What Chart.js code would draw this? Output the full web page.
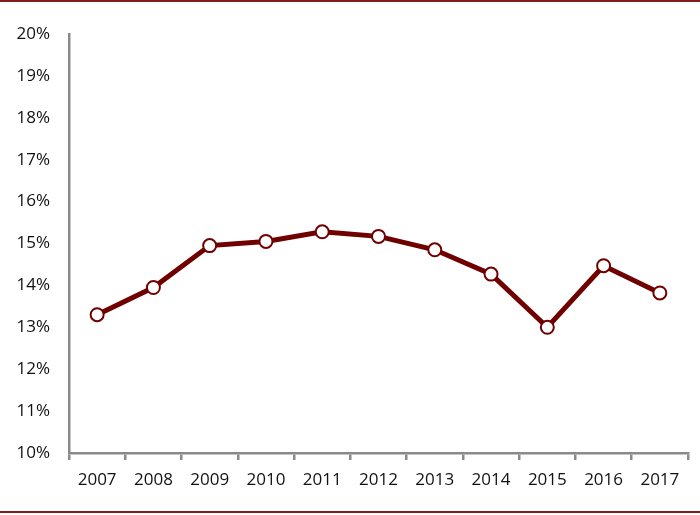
<!DOCTYPE html>
<html>
<head>
<meta charset="utf-8">
<script src="https://cdn.jsdelivr.net/npm/chart.js@4"></script>
<style>
html,body{margin:0;padding:0;background:#fff;}
#wrap{width:700px;height:515px;position:relative;}
</style>
</head>
<body>
<div id="wrap"><canvas id="c" width="700" height="515"></canvas></div>
<script>
const years = ['2007','2008','2009','2010','2011','2012','2013','2014','2015','2016','2017'];
const rates = [13.3, 13.95, 14.95, 15.05, 15.28, 15.17, 14.85, 14.27, 13.0, 14.47, 13.82];
const yMin = 10, yMax = 20, yStep = 1;

const frameLines = {
  id: 'frameLines',
  afterDraw(chart) {
    const ctx = chart.ctx;
    ctx.save();
    ctx.strokeStyle = '#7f1d1d';
    ctx.lineWidth = 2;
    ctx.beginPath();
    ctx.moveTo(0, 1); ctx.lineTo(700, 1);
    ctx.moveTo(0, 512); ctx.lineTo(700, 512);
    ctx.stroke();
    ctx.restore();
  }
};

new Chart(document.getElementById('c'), {
  type: 'line',
  data: {
    labels: years,
    datasets: [{
      data: rates,
      borderColor: '#700000',
      borderWidth: 5,
      pointRadius: 6.5,
      pointBorderWidth: 2,
      pointBackgroundColor: '#ffffff',
      pointBorderColor: '#700000',
      tension: 0,
      clip: false
    }]
  },
  options: {
    responsive: false,
    animation: false,
    layout: { padding: { top: 34, right: 12, left: 0, bottom: 0 } },
    plugins: { legend: { display: false }, tooltip: { enabled: false } },
    scales: {
      x: {
        offset: true,
        grid: { display: true, offset: true, drawOnChartArea: false, drawTicks: true, tickLength: 7, color: '#8a8a8a', lineWidth: 2.5 },
        border: { display: true, color: '#8a8a8a', width: 2.5 },
        ticks: { color: '#111111', font: { family: 'Open Sans', size: 17 }, padding: 10, maxRotation: 0 },
        afterFit(s) { s.height = 62; }
      },
      y: {
        min: yMin, max: yMax,
        grid: { display: false },
        border: { display: true, color: '#8a8a8a', width: 2.5 },
        ticks: { stepSize: yStep, color: '#111111', font: { family: 'Open Sans', size: 17 }, padding: 11, callback: v => v + '%' },
        afterFit(s) { s.width = 69; }
      }
    }
  },
  plugins: [frameLines]
});
</script>
</body>
</html>
